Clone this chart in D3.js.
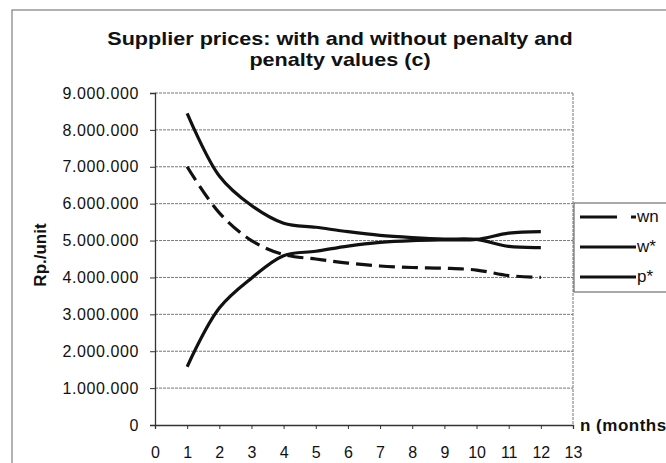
<!DOCTYPE html>
<html>
<head>
<meta charset="utf-8">
<script src="https://cdn.jsdelivr.net/npm/d3@7"></script>
<style>
  body { margin: 0; background: #fff; }
  svg { font-family: "Liberation Sans", Arial, sans-serif; }
</style>
</head>
<body>
<div class="container"></div>
<script>
let width = 666;
let height = 463;

// data
const months = [1, 2, 3, 4, 5, 6, 7, 8, 9, 10, 11, 12];
const wn = [7000000, 5750000, 5000000, 4620000, 4500000, 4390000, 4310000, 4270000, 4250000, 4200000, 4050000, 4000000];
const wStar = [8450000, 6750000, 5950000, 5470000, 5360000, 5240000, 5140000, 5080000, 5040000, 5030000, 4840000, 4810000];
const pStar = [1580000, 3170000, 3980000, 4590000, 4710000, 4850000, 4950000, 5000000, 5020000, 5030000, 5200000, 5240000];
const seriesNames = ['wn', 'w*', 'p*'];
const xTicks = [0, 1, 2, 3, 4, 5, 6, 7, 8, 9, 10, 11, 12, 13];
const yTicks = [0, 1000000, 2000000, 3000000, 4000000, 5000000, 6000000, 7000000, 8000000, 9000000];
const titleLines = ['Supplier prices: with and without penalty and', 'penalty values (c)'];

const series = [
    {name: seriesNames[0], values: wn, dash: '16,7'},
    {name: seriesNames[1], values: wStar, dash: null},
    {name: seriesNames[2], values: pStar, dash: null}
];

const svg = d3.select('.container')
    .append('svg')
    .attr('width', width)
    .attr('height', height);

// chart frame (cropped on the right and bottom)
svg.append('rect')
    .attr('x', 12)
    .attr('y', 10)
    .attr('width', 720)
    .attr('height', 520)
    .attr('fill', 'none')
    .attr('stroke', '#666')
    .attr('stroke-width', 1);

let x = d3.scaleLinear().domain([0, 13]).range([155, 573]);
let y = d3.scaleLinear().domain([0, 9000000]).range([425, 93]);

const fmt = d3.formatLocale({decimal: ',', thousands: '.', grouping: [3], currency: ['', '']}).format(',');

//Title (the scan is a bit wider than the font)
svg.append('g')
    .attr('transform', 'translate(340,0) scale(1.2,1)')
    .selectAll('text')
    .data(titleLines)
    .enter()
    .append('text')
    .attr('x', 0)
    .attr('y', (d, i) => 45 + i * 21)
    .attr('text-anchor', 'middle')
    .attr('font-size', 18)
    .attr('font-weight', 'bold')
    .attr('fill', '#111')
    .text(d => d);

//Gridlines
svg.append('g')
    .selectAll('line')
    .data(yTicks.filter(d => d > 0))
    .enter()
    .append('line')
    .attr('x1', x(0))
    .attr('x2', x(13))
    .attr('y1', d => y(d))
    .attr('y2', d => y(d))
    .attr('stroke', '#777')
    .attr('stroke-width', 1)
    .attr('stroke-dasharray', '3,1');

// right border of plot area
svg.append('line')
    .attr('x1', x(13))
    .attr('x2', x(13))
    .attr('y1', y(9000000))
    .attr('y2', y(0))
    .attr('stroke', '#777')
    .attr('stroke-dasharray', '3,1');

//Axes
let yAxis = svg.append('g')
    .attr('transform', 'translate(' + x(0) + ',0)')
    .call(d3.axisLeft(y).tickValues(yTicks).tickFormat(fmt).tickSize(5).tickPadding(11));

let xAxis = svg.append('g')
    .attr('transform', 'translate(0,' + y(0) + ')')
    .call(d3.axisBottom(x).tickValues(xTicks).tickSize(4).tickPadding(18));

[xAxis, yAxis].forEach(a => {
    a.select('.domain').attr('stroke', '#333').attr('stroke-width', 1.3);
    a.selectAll('.tick line').attr('stroke', '#333');
    a.selectAll('.tick text')
        .attr('font-size', 16)
        .attr('fill', '#111')
        .attr('font-family', '"Liberation Sans", Arial, sans-serif');
});
yAxis.selectAll('.tick text').attr('letter-spacing', 0.6);

svg.append('text')
    .attr('transform', 'translate(46,' + 255 + ') rotate(-90)')
    .attr('text-anchor', 'middle')
    .attr('font-size', 17)
    .attr('font-weight', 'bold')
    .attr('fill', '#111')
    .text('Rp./unit');

svg.append('text')
    .attr('x', 580)
    .attr('y', 431)
    .attr('font-size', 17)
    .attr('letter-spacing', 0.5)
    .attr('font-weight', 'bold')
    .attr('fill', '#111')
    .text('n (months)');

//Lines
let line = d3.line()
    .x((d, i) => x(months[i]))
    .y(d => y(d))
    .curve(d3.curveCatmullRom.alpha(0.5));

svg.append('g')
    .selectAll('path')
    .data(series)
    .enter()
    .append('path')
    .attr('d', d => line(d.values))
    .attr('fill', 'none')
    .attr('stroke', '#111')
    .attr('stroke-width', 3.2)
    .attr('stroke-dasharray', d => d.dash);

//Legend
let legend = svg.append('g');
legend.append('rect')
    .attr('x', 574)
    .attr('y', 203)
    .attr('width', 120)
    .attr('height', 89)
    .attr('fill', '#fff')
    .attr('stroke', '#555')
    .attr('stroke-width', 1);

let items = legend.selectAll('g.item')
    .data(series)
    .enter()
    .append('g')
    .attr('class', 'item')
    .attr('transform', (d, i) => 'translate(0,' + (217 + i * 30) + ')');

items.append('line')
    .attr('x1', 580)
    .attr('x2', 636)
    .attr('stroke', '#111')
    .attr('stroke-width', 3)
    .attr('stroke-dasharray', d => d.dash ? '37,14' : null);

items.append('text')
    .attr('x', 637)
    .attr('y', 5)
    .attr('font-size', 17)
    .attr('fill', '#111')
    .text(d => d.name);
</script>
</body>
</html>
